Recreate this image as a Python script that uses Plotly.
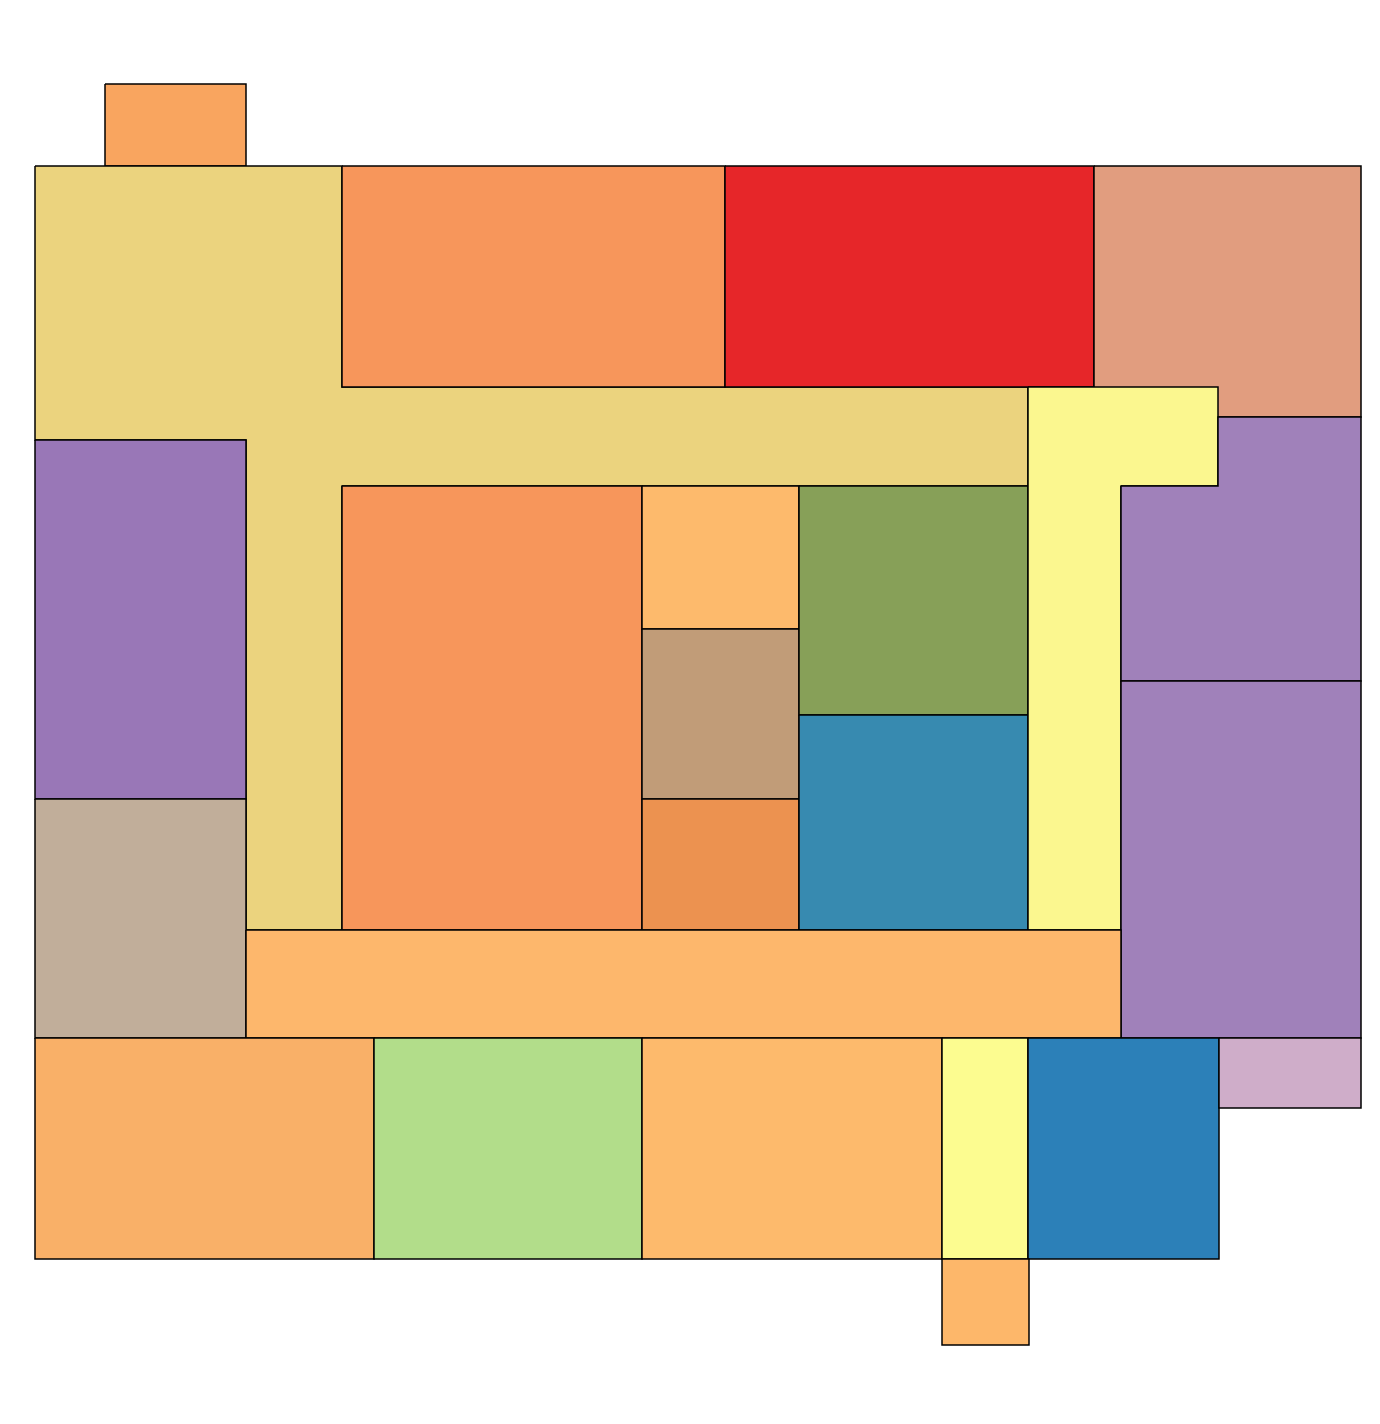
import plotly.graph_objects as go

# room outlines (plan units, y grows downward) and their fill colours
rooms = ["r1", "hall", "r3", "r4", "r5", "r6", "r7", "r8", "r9", "r10", "r11", "r12",
         "r13", "hall2", "r15", "r16", "r17", "r18", "r19", "r20", "r21", "r22", "r23", "r24"]
xs = [
    [97, 238, 238, 97],
    [27, 334, 334, 1020, 1020, 334, 334, 238, 238, 27],
    [334, 717, 717, 334],
    [717, 1086, 1086, 717],
    [1086, 1353, 1353, 1086],
    [27, 238, 238, 27],
    [27, 238, 238, 27],
    [334, 634, 634, 334],
    [634, 791, 791, 634],
    [634, 791, 791, 634],
    [634, 791, 791, 634],
    [791, 1020, 1020, 791],
    [791, 1020, 1020, 791],
    [1020, 1210, 1210, 1113, 1113, 1020],
    [1113, 1210, 1210, 1353, 1353, 1113],
    [1113, 1353, 1353, 1113],
    [238, 1113, 1113, 238],
    [27, 366, 366, 27],
    [366, 634, 634, 366],
    [634, 934, 934, 634],
    [934, 1020, 1020, 934],
    [1020, 1211, 1211, 1020],
    [1211, 1353, 1353, 1211],
    [934, 1021, 1021, 934],
]
ys = [
    [76, 76, 158, 158],
    [158, 158, 379, 379, 478, 478, 922, 922, 432, 432],
    [158, 158, 379, 379],
    [158, 158, 379, 379],
    [158, 158, 409, 409],
    [432, 432, 791, 791],
    [791, 791, 1030, 1030],
    [478, 478, 922, 922],
    [478, 478, 621, 621],
    [621, 621, 791, 791],
    [791, 791, 922, 922],
    [478, 478, 707, 707],
    [707, 707, 922, 922],
    [379, 379, 478, 478, 922, 922],
    [478, 478, 409, 409, 673, 673],
    [673, 673, 1030, 1030],
    [922, 922, 1030, 1030],
    [1030, 1030, 1251, 1251],
    [1030, 1030, 1251, 1251],
    [1030, 1030, 1251, 1251],
    [1030, 1030, 1251, 1251],
    [1030, 1030, 1251, 1251],
    [1030, 1030, 1100, 1100],
    [1251, 1251, 1337, 1337],
]
colors = ["#F9A55F", "#EBD37E", "#F7965B", "#E62629", "#E19D7F", "#9977B7", "#C1AE9A",
          "#F7965B", "#FDBA6C", "#C19C78", "#EC9250", "#87A058", "#378AB0", "#FBF78F",
          "#A081BA", "#A081BA", "#FDB76C", "#F9B068", "#B2DD8A", "#FDBA6C", "#FCFC90",
          "#2C80B8", "#CFADC9", "#FDB76A"]

fig = go.Figure()
for name, x, y, c in zip(rooms, xs, ys, colors):
    fig.add_trace(go.Scatter(x=x + [x[0]], y=y + [y[0]], mode="lines", fill="toself",
                             fillcolor=c, line=dict(color="black", width=1.5),
                             name=name, hoverinfo="name"))

fig.update_layout(width=1380, height=1424, margin=dict(l=0, r=0, t=0, b=0),
                  showlegend=False, plot_bgcolor="white", paper_bgcolor="white")
fig.update_xaxes(range=[0, 1380], visible=False)
fig.update_yaxes(range=[1424, 0], visible=False)

fig.write_html("out.html")
